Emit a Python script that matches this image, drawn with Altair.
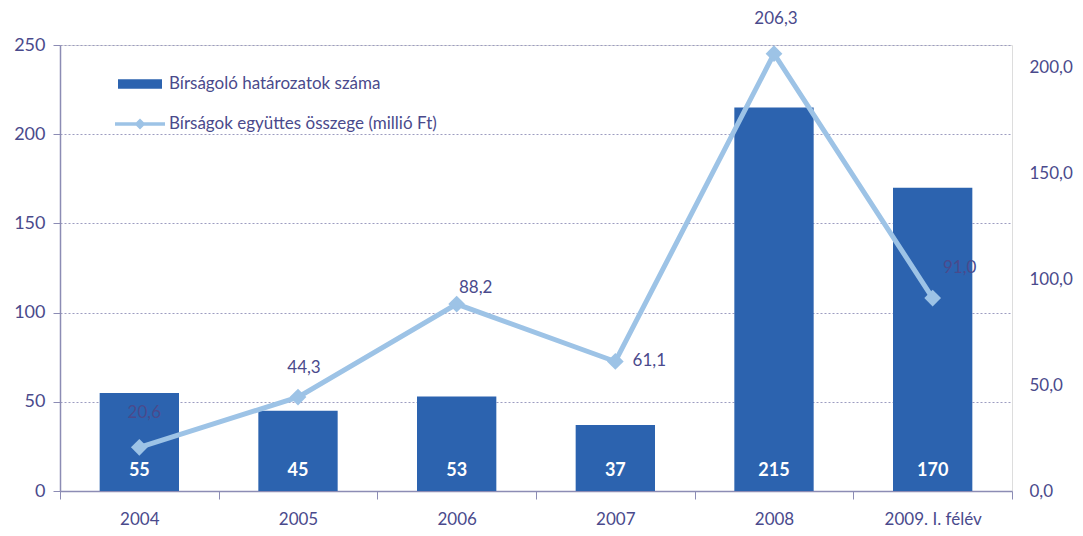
import altair as alt
import pandas as pd

categories = ["2004", "2005", "2006", "2007", "2008", "2009. I. félév"]
decisions = [55, 45, 53, 37, 215, 170]
fines = [20.6, 44.3, 88.2, 61.1, 206.3, 91.0]
bar_name = "Bírságoló határozatok száma"
line_name = "Bírságok együttes összege (millió Ft)"
left_ticks = [0, 50, 100, 150, 200, 250]
right_ticks = [0, 50, 100, 150, 200]

BAR_COLOR = "#2C63AF"
LINE_COLOR = "#9DC3E6"
TEXT_COLOR = "#4A4A8C"
AXIS_COLOR = "#8C8CB4"
FONT = "Lato"

df = pd.DataFrame({
    "cat": categories,
    "decisions": decisions,
    "fines": fines,
    "bar_series": [bar_name] * len(categories),
    "line_series": [line_name] * len(categories),
})
df["fine_label"] = [f"{v:.1f}".replace(".", ",") for v in fines]
df["zero"] = 0

x = alt.X("cat:N", sort=categories, title=None,
          scale=alt.Scale(paddingInner=0, paddingOuter=0),
          axis=alt.Axis(labelAngle=0, labelFontSize=17, labelColor=TEXT_COLOR,
                        labelFont=FONT, labelPadding=12, tickBand="extent",
                        tickSize=8, tickColor=AXIS_COLOR, domainColor=AXIS_COLOR,
                        domainWidth=1.5, grid=False))

base = alt.Chart(df)

bars = base.mark_bar(color=BAR_COLOR, width=alt.RelativeBandSize(0.5)).encode(
    x=x,
    y=alt.Y("decisions:Q", title=None,
            scale=alt.Scale(domain=[0, 250], nice=False),
            axis=alt.Axis(values=left_ticks, labelFontSize=18, labelColor=TEXT_COLOR,
                          labelFont=FONT, tickSize=7, tickColor=AXIS_COLOR,
                          domainColor=AXIS_COLOR, domainWidth=1.5, labelPadding=8,
                          grid=True, gridDash=[2, 2], gridColor="#9C9CC0",
                          gridWidth=1)),
    color=alt.Color("bar_series:N", scale=alt.Scale(domain=[bar_name], range=[BAR_COLOR]),
                    legend=alt.Legend(title=None, orient="none", legendX=58, legendY=17,
                                      symbolType="M-1,-0.22H1V0.22H-1Z", symbolSize=1936,
                                      labelFontSize=17, labelColor=TEXT_COLOR,
                                      labelFont=FONT, labelOffset=7, padding=0,
                                      labelLimit=0, symbolStrokeWidth=0)),
)

bar_text = base.mark_text(color="white", fontWeight="bold", fontSize=18, font=FONT,
                          baseline="middle", dy=-20).encode(
    x=x,
    y=alt.Y("zero:Q", scale=alt.Scale(domain=[0, 250], nice=False)),
    text=alt.Text("decisions:Q"),
)

right_y = alt.Y("fines:Q", title=None,
                scale=alt.Scale(domain=[0, 210.4], nice=False),
                axis=alt.Axis(orient="right", values=right_ticks, grid=False, domain=False,
                              ticks=False, labelPadding=17, labelFontSize=17,
                              labelColor=TEXT_COLOR, labelFont=FONT,
                              labelExpr="replace(format(datum.value, '.1f'), '.', ',')"))

line = base.mark_line(color=LINE_COLOR, strokeWidth=5).encode(x=x, y=right_y)

points = base.mark_point(filled=True, shape="diamond", size=280, opacity=1).encode(
    x=x, y=right_y,
    color=alt.Color("line_series:N", scale=alt.Scale(domain=[line_name], range=[LINE_COLOR]),
                    legend=alt.Legend(title=None, orient="none", legendX=55, legendY=54,
                                      symbolType="M-1,-0.07H1V0.07H-1Z M-0.22,0L0,-0.22L0.22,0L0,0.22Z",
                                      symbolSize=2500, labelFontSize=17,
                                      labelColor=TEXT_COLOR, labelFont=FONT,
                                      labelOffset=4, padding=0, labelLimit=0,
                                      symbolStrokeWidth=0)),
)

label_offsets = {
    "2004": (5, -34),
    "2005": (6, -29),
    "2006": (19, -16),
    "2007": (34, 0),
    "2008": (2, -35),
    "2009. I. félév": (27, -30),
}

label_layers = []
for c in categories:
    dx, dy = label_offsets[c]
    label_layers.append(
        base.transform_filter(alt.datum.cat == c).mark_text(
            color=TEXT_COLOR, fontSize=17, font=FONT, dx=dx, dy=dy, baseline="middle"
        ).encode(x=x, y=right_y, text="fine_label:N")
    )

left_layer = alt.layer(bars, bar_text)
right_layer = alt.layer(line, points, *label_layers)

chart = alt.layer(left_layer, right_layer).resolve_scale(
    y="independent", color="independent"
).properties(
    width=952, height=446,
    padding={"left": 52, "top": 37, "right": 63, "bottom": 40},
    autosize=alt.AutoSizeParams(type="none"),
).configure_view(stroke=None).configure(background="white")

chart.save("out.html", embed_options={"renderer": "svg", "actions": False})
